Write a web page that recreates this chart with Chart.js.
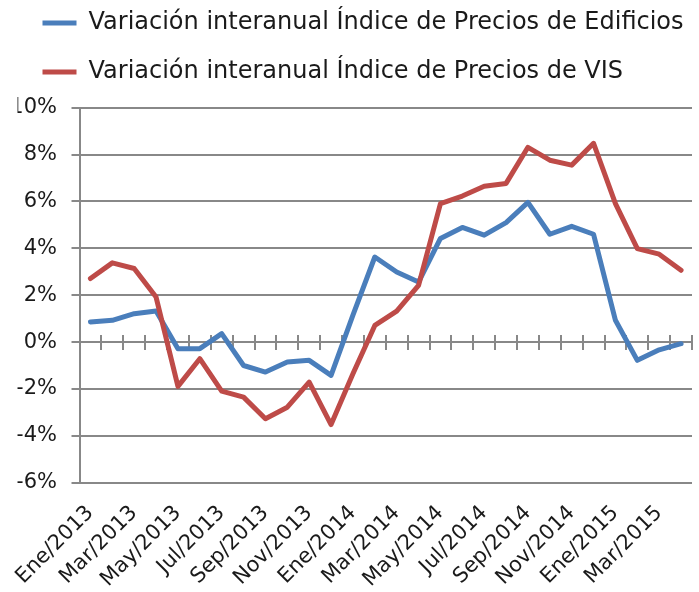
<!DOCTYPE html>
<html>
<head>
<meta charset="utf-8">
<script src="https://cdn.jsdelivr.net/npm/chart.js@4/dist/chart.umd.min.js"></script>
<style>
  html, body { margin: 0; padding: 0; background: #ffffff; }
  #wrap { width: 699px; height: 592px; }
</style>
</head>
<body>
<div id="wrap"><canvas id="c" width="699" height="592"></canvas></div>
<script>
const categories = [
  'Ene/2013','Feb/2013','Mar/2013','Abr/2013','May/2013','Jun/2013','Jul/2013','Ago/2013','Sep/2013','Oct/2013','Nov/2013','Dic/2013',
  'Ene/2014','Feb/2014','Mar/2014','Abr/2014','May/2014','Jun/2014','Jul/2014','Ago/2014','Sep/2014','Oct/2014','Nov/2014','Dic/2014',
  'Ene/2015','Feb/2015','Mar/2015','Abr/2015'
];
const seriesNames = [
  'Variación interanual Índice de Precios de Edificios',
  'Variación interanual Índice de Precios de VIS'
];
const edificios = [0.86, 0.93, 1.21, 1.33, -0.28, -0.28, 0.36, -1.00, -1.28, -0.85, -0.78, -1.42,
  1.15, 3.63, 2.99, 2.56, 4.42, 4.89, 4.56, 5.10, 5.96, 4.60, 4.94, 4.60,
  0.93, -0.78, -0.33, -0.07];
const vis = [2.71, 3.38, 3.14, 1.92, -1.89, -0.71, -2.09, -2.35, -3.27, -2.78, -1.71, -3.52,
  -1.35, 0.71, 1.32, 2.42, 5.91, 6.23, 6.65, 6.77, 8.31, 7.76, 7.55, 8.48,
  5.91, 3.99, 3.75, 3.06];
const yTicks = [-6, -4, -2, 0, 2, 4, 6, 8, 10];

const FONT = "'DejaVu Sans', sans-serif";
const GRID = '#888888';
const TEXT = '#1a1a1a';

new Chart(document.getElementById('c'), {
  type: 'line',
  data: {
    labels: categories,
    datasets: [
      {
        label: seriesNames[0], data: edificios, xAxisID: 'x', yAxisID: 'y',
        borderColor: '#4a7ebb', backgroundColor: '#4a7ebb',
        borderWidth: 5, pointRadius: 0, tension: 0,
        borderJoinStyle: 'round', borderCapStyle: 'round', order: 1
      },
      {
        label: seriesNames[1], data: vis, xAxisID: 'x', yAxisID: 'y',
        borderColor: '#be4b48', backgroundColor: '#be4b48',
        borderWidth: 5, pointRadius: 0, tension: 0,
        borderJoinStyle: 'round', borderCapStyle: 'round', order: 0
      }
    ]
  },
  options: {
    responsive: false,
    animation: false,
    devicePixelRatio: 1,
    layout: { padding: { top: -14, left: 17.5, right: 7, bottom: 0 } },
    plugins: {
      tooltip: { enabled: false },
      legend: {
        position: 'top',
        align: 'start',
        labels: {
          usePointStyle: true,
          pointStyle: 'line',
          pointStyleWidth: 34,
          padding: 25,
          color: TEXT,
          font: { family: FONT, size: 24 },
          sort: (a, b) => a.datasetIndex - b.datasetIndex
        }
      }
    },
    scales: {
      x: {
        type: 'category',
        position: 'bottom',
        offset: true,
        grid: { display: false, drawTicks: false },
        border: { display: false },
        ticks: {
          autoSkip: false, maxRotation: 45, minRotation: 45,
          padding: 18, color: TEXT,
          font: { family: FONT, size: 21 },
          callback: (v, i) => (i % 2 === 0 ? categories[i] : '')
        },
        afterFit: (s) => { s.height = 109.3; s.paddingLeft = 0; s.paddingRight = 0; }
      },
      xTop: {
        type: 'category',
        position: 'top',
        offset: true,
        grid: { display: false, drawTicks: false },
        border: { display: false },
        ticks: { display: false },
        afterFit: (s) => { s.height = 13.7; }
      },
      x0: {
        type: 'category',
        position: { y: 0.3 },
        offset: true,
        grid: { offset: true, drawOnChartArea: false, drawTicks: true, tickLength: 15, color: GRID, lineWidth: 2 },
        border: { display: false },
        ticks: { display: false }
      },
      y: {
        min: -6, max: 10,
        afterBuildTicks: (s) => { s.ticks = yTicks.map(v => ({ value: v })); },
        grid: { color: GRID, lineWidth: 2, tickLength: 8 },
        border: { color: GRID, width: 2 },
        ticks: {
          padding: 14.5, color: TEXT,
          font: { family: FONT, size: 21 },
          callback: (v) => v + '%'
        },
        afterFit: (s) => { s.width = 62; }
      }
    }
  }
});
</script>
</body>
</html>
